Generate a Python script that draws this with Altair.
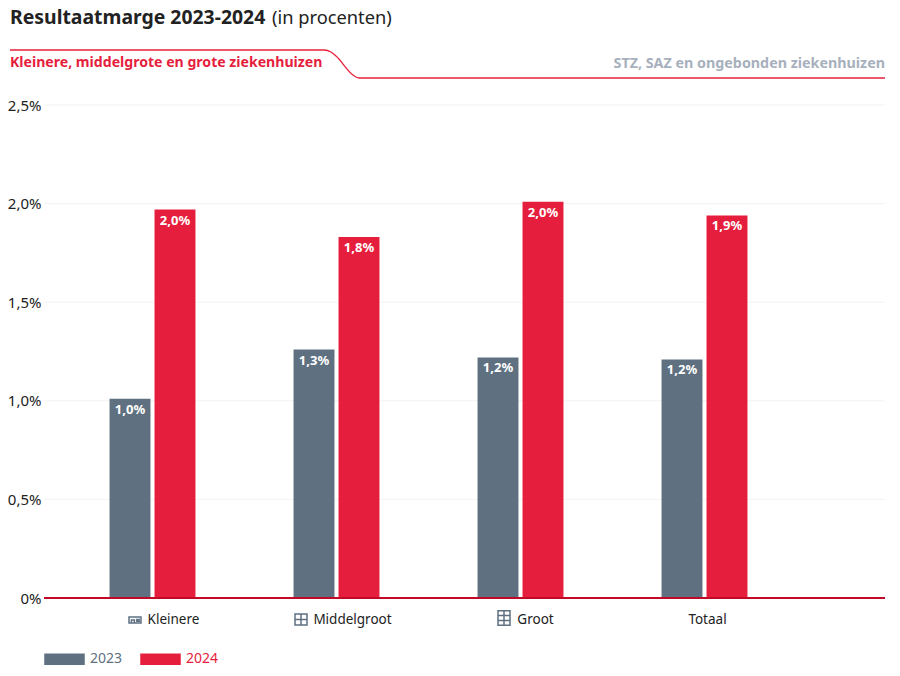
import altair as alt
import pandas as pd

FONT = "Noto Sans"
categories = ["Kleinere", "Middelgroot", "Groot", "Totaal"]
years = ["2023", "2024"]
values_2023 = [1.01, 1.26, 1.22, 1.21]
values_2024 = [1.97, 1.83, 2.01, 1.94]
labels_2023 = ["1,0%", "1,3%", "1,2%", "1,2%"]
labels_2024 = ["2,0%", "1,8%", "2,0%", "1,9%"]
y_ticks = [0, 0.5, 1.0, 1.5, 2.0, 2.5]
label_dx = [21, 16, 15, 3]
colors = ["#5f7081", "#e61e3d"]

df = pd.DataFrame({
    "cat": categories * 2,
    "year": ["2023"] * 4 + ["2024"] * 4,
    "val": values_2023 + values_2024,
    "lab": labels_2023 + labels_2024,
})

W, H = 841, 493
x_scale = alt.Scale(domain=categories, range=[16.5, 752.5], paddingInner=0.533, paddingOuter=0.2665)
y_scale = alt.Scale(domain=[0, 2.5], nice=False)
offset_scale = alt.Scale(domain=years, paddingInner=0.09)

x_enc = alt.X("cat:N", scale=x_scale, sort=categories, title=None,
              axis=alt.Axis(labels=False, ticks=False, domain=False, grid=False))
base = alt.Chart(df)

grid = alt.Chart(pd.DataFrame({"v": y_ticks[1:]})).mark_rule(color="#f3f3f3", strokeWidth=1).encode(
    y=alt.Y("v:Q", scale=y_scale, title=None,
            axis=alt.Axis(values=y_ticks, labelExpr="replace(format(datum.value, datum.value == 0 ? '.0f' : '.1f'), '.', ',') + '%'",
                          labelFont=FONT, labelFontSize=15, labelColor="#222222", labelPadding=3,
                          ticks=False, domain=False, grid=False)))

bars = base.mark_bar().encode(
    x=x_enc,
    xOffset=alt.XOffset("year:N", scale=offset_scale, sort=years),
    y=alt.Y("val:Q", scale=y_scale, title=None),
    color=alt.Color("year:N", scale=alt.Scale(domain=years, range=colors),
                    legend=alt.Legend(title=None, orient="none", legendX=0, legendY=533.5, direction="horizontal",
                                      symbolType="M-1,-0.28H1V0.28H-1Z", symbolSize=1640, symbolStrokeWidth=0,
                                      symbolOpacity=1, labelFont=FONT, labelFontSize=14, columnPadding=17,
                                      labelOffset=5,
                                      labelColor=alt.expr("datum.label == '2023' ? '#5f7081' : '#e61e3d'"))),
)
bar_labels = base.mark_text(baseline="top", dy=5, font=FONT, fontSize=13, fontWeight="bold", color="white").encode(
    x=x_enc,
    xOffset=alt.XOffset("year:N", scale=offset_scale, sort=years),
    y=alt.Y("val:Q", scale=y_scale),
    text="lab:N",
)
zero = alt.Chart(pd.DataFrame({"v": [0]})).mark_rule(color="#c20a28", strokeWidth=2).encode(y=alt.Y("v:Q", scale=y_scale))

cat_labels = [
    alt.Chart(pd.DataFrame({"cat": [c]})).mark_text(font=FONT, fontSize=13.5, color="#222222", dx=d, baseline="middle").encode(
        x=alt.X("cat:N", scale=x_scale, sort=categories),
        y=alt.value(H + 22), text="cat:N")
    for c, d in zip(categories, label_dx)
]

icons = [("M-1,0.5V-0.5H1V0.5Z M-0.6,0.5V0H-0.1V0.5 M0.3,-0.1H0.7V0.2H0.3Z", 91, 515),
         ("M-1,-0.9H1V0.9H-1Z M-1,0H1 M0,-0.9V0.9", 257, 514.5),
         ("M-1,-1.2H1V1.2H-1Z M-1,-0.4H1 M-1,0.4H1 M0,-1.2V1.2", 460, 513)]
icon_marks = [
    alt.Chart(pd.DataFrame({"a": [0]})).mark_point(shape=p, size=144, filled=False, stroke="#5f7081", strokeWidth=1.5, opacity=1).encode(
        x=alt.value(ix), y=alt.value(iy))
    for p, ix, iy in icons
]

def head(text, x, y, size, weight, color, align="left"):
    return alt.Chart(pd.DataFrame({"t": [text]})).mark_text(
        font=FONT, fontSize=size, fontWeight=weight, color=color, align=align, baseline="alphabetic", clip=False
    ).encode(x=alt.value(x), y=alt.value(y), text="t:N")

headers = [
    head("Resultaatmarge 2023-2024", -34, -81, 19.4, "bold", "#222222"),
    head("(in procenten)", 228, -81, 18.3, "normal", "#222222"),
    head("Kleinere, middelgrote en grote ziekenhuizen", -34, -38, 14.1, "bold", "#e61e3d"),
    head("STZ, SAZ en ongebonden ziekenhuizen", 841, -37, 14.3, "bold", "#a7b0bd", "right"),
]

tab_x = [-34, 280, 287, 292, 309, 315, 841]
tab_y = [-55, -55, -53, -49, -30, -27, -27]
tab = alt.Chart(pd.DataFrame({"x": tab_x, "y": tab_y})).mark_line(color="#e8203c", strokeWidth=1.3, interpolate="monotone", clip=False).encode(
    x=alt.X("x:Q", scale=None), y=alt.Y("y:Q", scale=None))

chart = alt.layer(grid, bars, zero, bar_labels, tab, *headers, *cat_labels, *icon_marks).properties(
    width=W, height=H, padding={"left": 36, "top": 97, "right": 7, "bottom": 78},
    autosize=alt.AutoSizeParams(type="none"),
).configure_view(stroke=None)
chart.save("out.html", embed_options={"renderer": "svg", "actions": False})
